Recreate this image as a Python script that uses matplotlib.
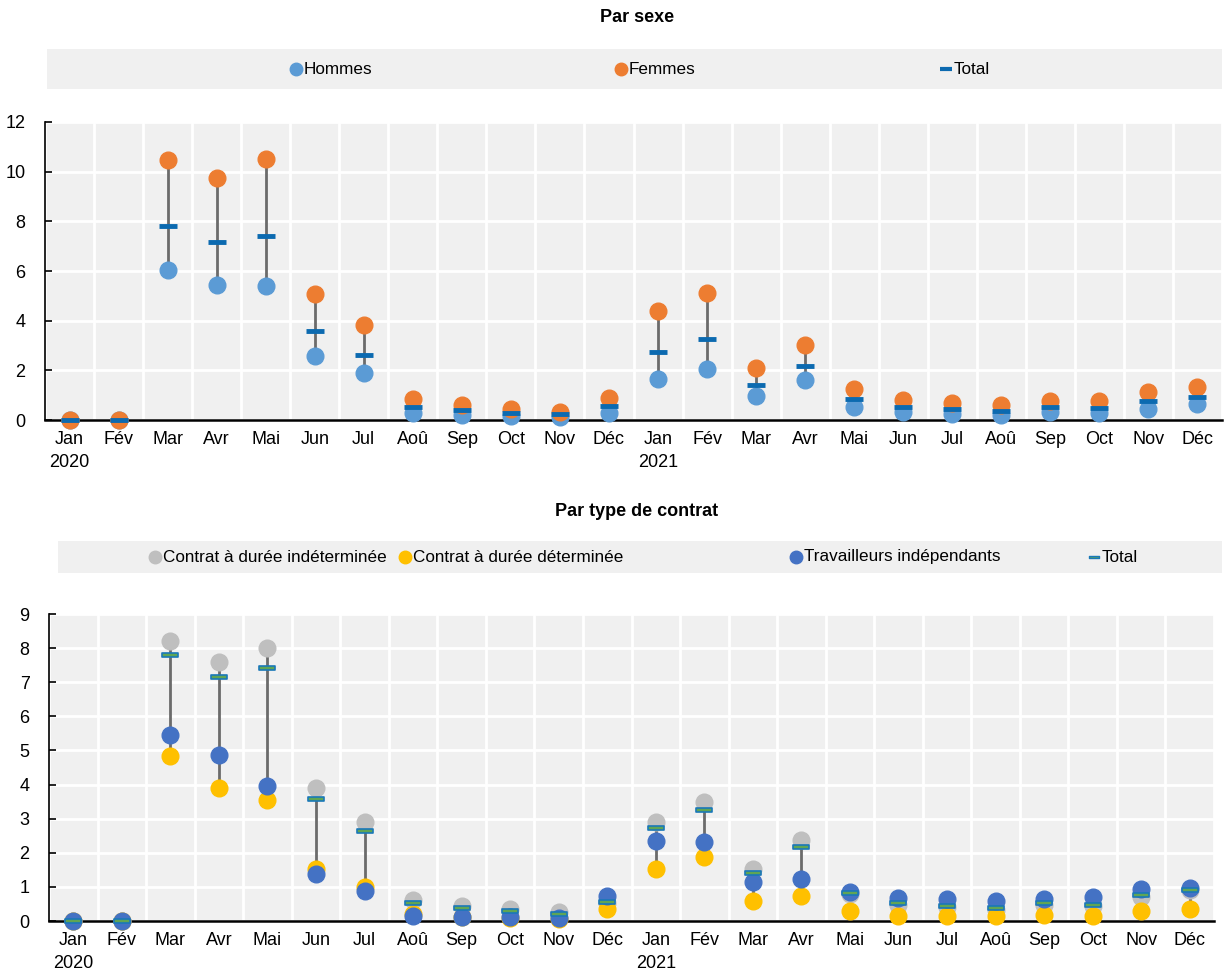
import numpy as np
import matplotlib
matplotlib.use('Agg')
import matplotlib.pyplot as plt
from matplotlib.path import Path
from matplotlib.patches import Rectangle

plt.rcParams['font.family'] = ['Liberation Sans Narrow', 'Liberation Sans', 'DejaVu Sans']

# categories
months = ['Jan\n2020', 'Fév', 'Mar', 'Avr', 'Mai', 'Jun', 'Jul', 'Aoû', 'Sep', 'Oct', 'Nov', 'Déc',
          'Jan\n2021', 'Fév', 'Mar', 'Avr', 'Mai', 'Jun', 'Jul', 'Aoû', 'Sep', 'Oct', 'Nov', 'Déc']

# Par sexe
hommes = [0, 0, 6.05, 5.45, 5.38, 2.58, 1.88, 0.30, 0.22, 0.16, 0.13, 0.30,
          1.64, 2.04, 0.97, 1.62, 0.54, 0.34, 0.25, 0.20, 0.31, 0.28, 0.44, 0.63]
femmes = [0, 0, 10.45, 9.75, 10.5, 5.06, 3.82, 0.83, 0.60, 0.43, 0.33, 0.88,
          4.38, 5.11, 2.11, 3.03, 1.26, 0.80, 0.70, 0.59, 0.78, 0.75, 1.14, 1.33]
total_sexe = [0, 0, 7.8, 7.16, 7.41, 3.57, 2.62, 0.54, 0.40, 0.29, 0.24, 0.55,
              2.73, 3.28, 1.42, 2.19, 0.83, 0.52, 0.44, 0.37, 0.51, 0.48, 0.75, 0.93]

# Par type de contrat
cdi = [0, 0, 8.21, 7.59, 8.01, 3.91, 2.90, 0.62, 0.45, 0.34, 0.27, 0.52,
       2.89, 3.48, 1.51, 2.37, 0.80, 0.46, 0.40, 0.33, 0.48, 0.45, 0.70, 0.90]
cdd = [0, 0, 4.85, 3.89, 3.55, 1.52, 0.99, 0.20, 0.12, 0.08, 0.06, 0.34,
       1.53, 1.87, 0.60, 0.74, 0.29, 0.15, 0.14, 0.14, 0.18, 0.15, 0.29, 0.36]
indep = [0, 0, 5.45, 4.87, 3.96, 1.38, 0.89, 0.15, 0.13, 0.11, 0.10, 0.74,
         2.35, 2.33, 1.13, 1.23, 0.85, 0.66, 0.65, 0.60, 0.65, 0.71, 0.94, 0.96]
total_contrat = [0, 0, 7.81, 7.15, 7.41, 3.57, 2.65, 0.53, 0.39, 0.28, 0.21, 0.55,
                 2.72, 3.26, 1.41, 2.18, 0.81, 0.52, 0.44, 0.37, 0.52, 0.48, 0.75, 0.91]

W, H = 1228, 971
fig = plt.figure(figsize=(W / 100, H / 100), dpi=100)

dash = Path([(-1, -0.28), (1, -0.28), (1, 0.28), (-1, 0.28), (-1, -0.28)],
            [Path.MOVETO, Path.LINETO, Path.LINETO, Path.LINETO, Path.CLOSEPOLY])


def px_axes(x0, y0, x1, y1):
    return fig.add_axes([x0 / W, 1 - y1 / H, (x1 - x0) / W, (y1 - y0) / H])


def style(ax, ymax, step):
    x = np.arange(len(months))
    ax.set_facecolor('#f0f0f0')
    ax.set_xlim(-0.5, len(months) - 0.5)
    ax.set_ylim(0, ymax)
    ax.set_yticks(np.arange(0, ymax + 0.01, step))
    ax.set_xticks(x)
    ax.set_xticklabels(months, fontsize=13, linespacing=1.45)
    ax.set_xticks(np.arange(-0.5, len(months)), minor=True)
    ax.grid(True, which='minor', axis='x', color='white', lw=2)
    ax.grid(True, which='major', axis='y', color='white', lw=2)
    ax.grid(False, which='major', axis='x')
    ax.set_axisbelow(True)
    for s in ['top', 'right']:
        ax.spines[s].set_visible(False)
    ax.spines['bottom'].set_linewidth(1.8)
    ax.spines['left'].set_linewidth(1.2)
    ax.tick_params(axis='x', which='both', length=0, pad=8)
    ax.tick_params(axis='y', direction='in', length=5, width=1.2, labelsize=13, pad=14)


def legend_band(y0, y1, x0, items):
    ax = fig.add_axes([0, 1 - y1 / H, 1, (y1 - y0) / H])
    ax.set_xlim(0, W)
    ax.set_ylim(0, 1)
    ax.axis('off')
    ax.add_patch(Rectangle((x0, 0), 1222 - x0, 1, color='#f0f0f0', lw=0))
    for xm, label, kw in items:
        ax.plot([xm], [0.5], **kw)
        ax.text(xm + 8, 0.5, label, fontsize=12.3, va='center', ha='left')


# ---------- Par sexe ----------
fig.text(637 / W, 1 - 18 / H, 'Par sexe', fontsize=13, fontweight='bold', ha='center', va='center')
legend_band(49, 89, 47, [
    (296, 'Hommes', dict(marker='o', ms=9, color='#5b9bd5', ls='none')),
    (621, 'Femmes', dict(marker='o', ms=9, color='#ed7d31', ls='none')),
    (946, 'Total', dict(marker='_', ms=9, mew=3, color='#0c6ab0', ls='none')),
])

ax1 = px_axes(45, 122, 1222, 420)
style(ax1, 12, 2)
x = np.arange(len(months))
lo = np.minimum(hommes, femmes)
hi = np.maximum(hommes, femmes)
ax1.vlines(x, lo, hi, color='#6b6b6b', lw=2, zorder=2)
ax1.plot(x, hommes, 'o', ms=12, color='#5b9bd5', zorder=3, clip_on=False)
ax1.plot(x, femmes, 'o', ms=12, color='#ed7d31', zorder=4, clip_on=False)
ax1.plot(x, total_sexe, '_', ms=13, mew=3.5, color='#0c6ab0', zorder=5, clip_on=False)

# ---------- Par type de contrat ----------
fig.text(637 / W, 1 - 512 / H, 'Par type de contrat', fontsize=13, fontweight='bold', ha='center', va='center')
legend_band(541, 573, 58, [
    (155, 'Contrat à durée indéterminée', dict(marker='o', ms=9, color='#bfbfbf', ls='none')),
    (405, 'Contrat à durée déterminée', dict(marker='o', ms=9, color='#ffc000', ls='none')),
    (796, 'Travailleurs indépendants', dict(marker='o', ms=9, color='#4472c4', ls='none')),
    (1094, 'Total', dict(marker=dash, ms=7, mfc='#5fa555', mec='#1a78b8', mew=1, ls='none')),
])

ax2 = px_axes(49, 614, 1214, 921)
style(ax2, 9, 1)
series = np.array([cdi, cdd, indep])
ax2.vlines(x, series.min(axis=0), series.max(axis=0), color='#6b6b6b', lw=2, zorder=2)
ax2.plot(x, cdi, 'o', ms=12, color='#bfbfbf', zorder=3, clip_on=False)
ax2.plot(x, cdd, 'o', ms=12, color='#ffc000', zorder=4, clip_on=False)
ax2.plot(x, indep, 'o', ms=12, color='#4472c4', zorder=5, clip_on=False)
ax2.plot(x, total_contrat, marker=dash, ls='none', ms=11, mfc='#5fa555', mec='#1a78b8', mew=1.2,
         zorder=6, clip_on=False)

fig.savefig('out.png', dpi=100)
